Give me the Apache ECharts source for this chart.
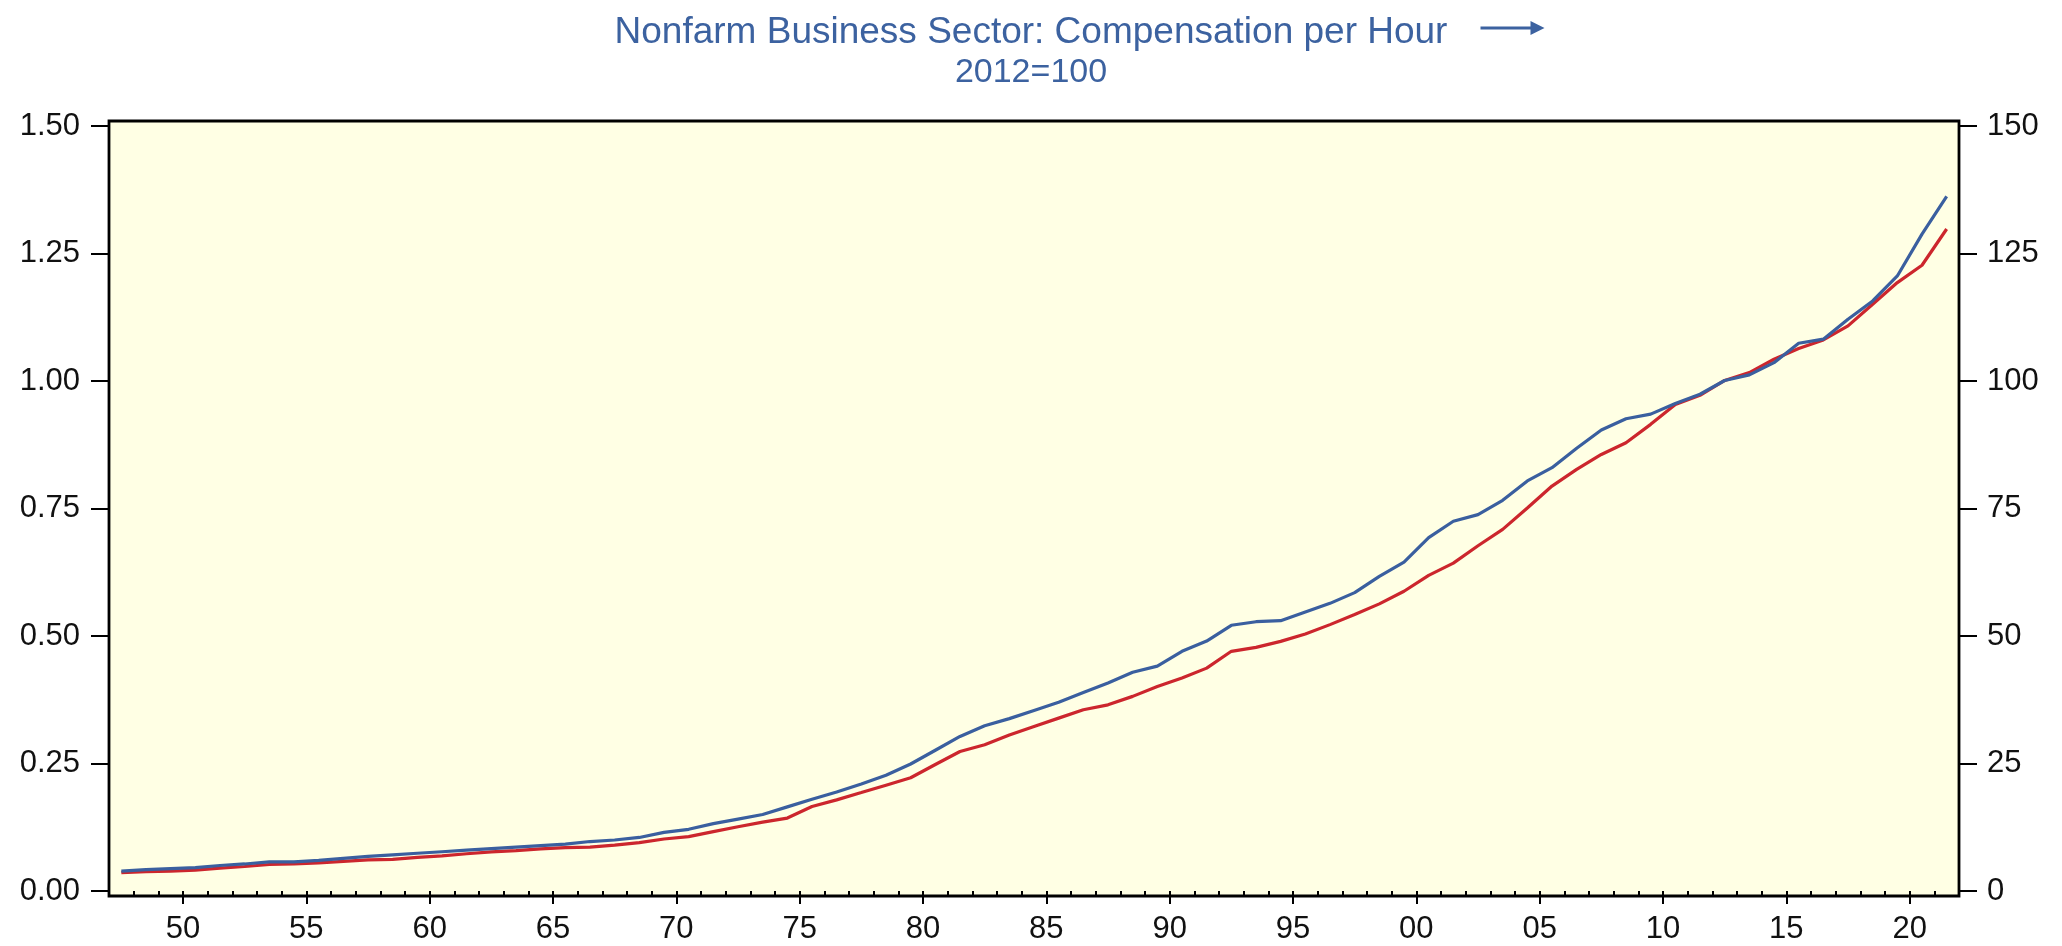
<!DOCTYPE html>
<html>
<head>
<meta charset="utf-8">
<script src="https://cdn.jsdelivr.net/npm/echarts@6/dist/echarts.min.js"></script>
<style>
html,body{margin:0;padding:0;background:#fff;}
#chart{width:2062px;height:946px;}
</style>
</head>
<body>
<div id="chart"></div>
<script>
// ---- data ----
const firstYear = 1947;
const lastYear = 2021;
const titleText = 'Nonfarm Business Sector: Compensation per Hour';
const subTitleText = '2012=100';
// Blue: Compensation per hour index (right axis, 2012=100)
const compIndex = [
  3.9, 4.2, 4.4, 4.6, 5.0, 5.3, 5.7, 5.7, 6.0, 6.4,
  6.8, 7.1, 7.4, 7.7, 8.0, 8.3, 8.6, 8.9, 9.2, 9.7,
  10.0, 10.5, 11.5, 12.1, 13.2, 14.1, 15.0, 16.5, 18.0, 19.4,
  21.0, 22.7, 24.9, 27.6, 30.3, 32.4, 33.8, 35.4, 37.0, 38.9,
  40.8, 42.9, 44.1, 47.0, 49.0, 52.1, 52.8, 53.0, 54.7, 56.4,
  58.5, 61.7, 64.5, 69.3, 72.5, 73.8, 76.6, 80.4, 83.0, 86.8,
  90.4, 92.6, 93.5, 95.6, 97.4, 100.1, 101.2, 103.6, 107.4, 108.2,
  112.1, 115.7, 120.6, 128.8, 136.2
];
// Red: left-axis series
const leftSeries = [
  0.036, 0.038, 0.039, 0.041, 0.045, 0.048, 0.052, 0.053, 0.055, 0.058,
  0.061, 0.062, 0.066, 0.069, 0.073, 0.0766, 0.079, 0.0825, 0.085, 0.086,
  0.090, 0.095, 0.102, 0.1067, 0.1165, 0.126, 0.135, 0.143, 0.1656, 0.1787,
  0.193, 0.2075, 0.222, 0.248, 0.2735, 0.2867, 0.306, 0.3226, 0.339, 0.3554,
  0.365, 0.3816, 0.401, 0.4176, 0.437, 0.470, 0.4778, 0.4895, 0.504, 0.5223,
  0.542, 0.563, 0.5877, 0.619, 0.643, 0.677, 0.709, 0.751, 0.794, 0.8266,
  0.856, 0.879, 0.915, 0.954, 0.972, 1.001, 1.0165, 1.0426, 1.0636, 1.0805,
  1.108, 1.1506, 1.193, 1.227, 1.298
];
const majorTickYears = [1950,1955,1960,1965,1970,1975,1980,1985,1990,1995,2000,2005,2010,2015,2020];

// ---- build ----
const years = [];
for (let y = firstYear; y <= lastYear; y++) years.push(y);
const allTickYears = [];
for (let y = firstYear; y <= lastYear + 1; y++) allTickYears.push(y);
// annual observations drawn at the middle of each year interval
const blueData = years.map((y, i) => [y + 0.5, compIndex[i]]);
const redData = years.map((y, i) => [y + 0.5, leftSeries[i]]);

const FONT = "'Liberation Sans', Arial, Helvetica, sans-serif";
const BLUE = '#3A5F9F';
const RED = '#CC262D';
const TITLE_BLUE = '#3C62A0';

const chart = echarts.init(document.getElementById('chart'), null, {renderer: 'canvas'});
const G = {left: 109, right: 103, top: 126, bottom: 55};

chart.setOption({
  animation: false,
  backgroundColor: '#ffffff',
  title: {
    text: titleText,
    subtext: subTitleText,
    left: 'center',
    top: 9,
    itemGap: 3,
    textStyle: {color: TITLE_BLUE, fontFamily: FONT, fontWeight: 'normal', fontSize: 37, lineHeight: 38},
    subtextStyle: {color: TITLE_BLUE, fontFamily: FONT, fontSize: 34, lineHeight: 36}
  },
  graphic: [
    {
      type: 'rect', z: -1, silent: true,
      shape: {x: G.left, y: G.top - 5, width: 2062 - G.left - G.right, height: 946 - G.top - G.bottom + 10},
      style: {fill: '#FFFFE4', stroke: '#000000', lineWidth: 2.8}
    },
    {
      type: 'group', left: 1478, top: 21, silent: true,
      children: [
        {type: 'line', shape: {x1: 0, y1: 8, x2: 56, y2: 8}, style: {stroke: TITLE_BLUE, lineWidth: 3}},
        {type: 'polygon', shape: {points: [[50, 1], [64, 8], [50, 15]]}, style: {fill: TITLE_BLUE}}
      ]
    }
  ],
  grid: {left: G.left, right: G.right, top: G.top, bottom: G.bottom, show: false},
  xAxis: [
    {
      type: 'value', min: firstYear, max: lastYear + 1, offset: 5,
      axisLine: {show: false},
      splitLine: {show: false},
      axisTick: {show: true, length: 13, inside: false, customValues: majorTickYears, lineStyle: {color: '#000', width: 2}},
      axisLabel: {
        customValues: majorTickYears, margin: 18, color: '#111', fontFamily: FONT, fontSize: 31,
        formatter: v => String(Math.round(v) % 100).padStart(2, '0')
      }
    },
    {
      type: 'value', min: firstYear, max: lastYear + 1, offset: 5, position: 'bottom',
      axisLine: {show: false},
      splitLine: {show: false},
      axisTick: {show: true, length: 6, customValues: allTickYears, lineStyle: {color: '#000', width: 2}},
      axisLabel: {show: false}
    }
  ],
  yAxis: [
    {
      type: 'value', min: 0, max: 1.5, interval: 0.25, position: 'left',
      axisLine: {show: false}, splitLine: {show: false},
      axisTick: {show: true, length: 18, lineStyle: {color: '#000', width: 2}},
      axisLabel: {margin: 29, color: '#111', fontFamily: FONT, fontSize: 31, formatter: v => v.toFixed(2)}
    },
    {
      type: 'value', min: 0, max: 150, interval: 25, position: 'right',
      axisLine: {show: false}, splitLine: {show: false},
      axisTick: {show: true, length: 18, lineStyle: {color: '#000', width: 2}},
      axisLabel: {margin: 28, color: '#111', fontFamily: FONT, fontSize: 31}
    }
  ],
  series: [
    {
      name: 'Left series', type: 'line', xAxisIndex: 0, yAxisIndex: 0, data: redData,
      showSymbol: false, lineStyle: {color: RED, width: 3.2}, z: 3
    },
    {
      name: titleText, type: 'line', xAxisIndex: 0, yAxisIndex: 1, data: blueData,
      showSymbol: false, lineStyle: {color: BLUE, width: 3.2}, z: 4
    }
  ]
});
</script>
</body>
</html>
